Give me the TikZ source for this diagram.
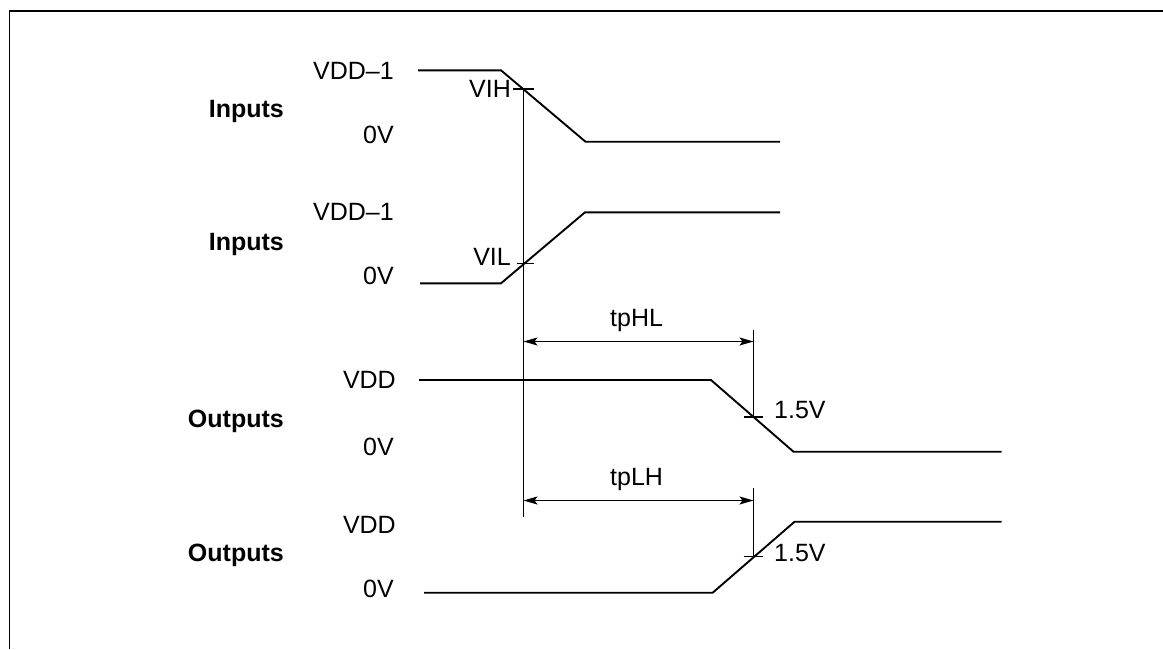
\documentclass[tikz,border=0pt]{standalone}
\usepackage{fontspec}
\setmainfont{Liberation Sans}
\usetikzlibrary{arrows.meta}
\begin{document}
\begin{tikzpicture}[x=1pt,y=-1pt,
  frame/.style={line width=1.3pt},
  wave/.style={line width=1.9pt, line join=miter},
  guide/.style={line width=1pt},
  tickmark/.style={line width=1.8pt},
  lbl/.style={inner sep=0pt, font=\fontsize{25}{29}\selectfont},
  blbl/.style={inner sep=0pt, font=\fontsize{25}{29}\selectfont\bfseries},
  dimline/.style={line width=1pt, {Stealth[length=14pt,width=8pt,inset=3pt]}-{Stealth[length=14pt,width=8pt,inset=3pt]}}]
\useasboundingbox (0,0) rectangle (1163,649);
% frame
\coordinate (ftl) at (9.6,11);
\coordinate (ftr) at (1163,11);
\coordinate (fbl) at (9.6,649);
\draw[frame] (ftr) -- (ftl) -- (fbl);
% waveform corners
\coordinate (a1) at (418,70.3);
\coordinate (a2) at (501,70.3);
\coordinate (a3) at (585.5,141.7);
\coordinate (a4) at (780,141.7);
\coordinate (b1) at (420,283.3);
\coordinate (b2) at (501,283.3);
\coordinate (b3) at (585,212.3);
\coordinate (b4) at (780,212.3);
\coordinate (c1) at (419,380);
\coordinate (c2) at (711,380);
\coordinate (c3) at (793.5,451.7);
\coordinate (c4) at (1001.5,451.7);
\coordinate (d1) at (424,592.7);
\coordinate (d2) at (712.7,592.7);
\coordinate (d3) at (794.6,521.7);
\coordinate (d4) at (1001.5,521.7);
\draw[wave] (a1) -- (a2) -- (a3) -- (a4);
\draw[wave] (b1) -- (b2) -- (b3) -- (b4);
\draw[wave] (c1) -- (c2) -- (c3) -- (c4);
\draw[wave] (d1) -- (d2) -- (d3) -- (d4);
% guide lines
\coordinate (v1t) at (523.5,89.3);
\coordinate (v1b) at (523.5,517);
\draw[guide] (v1t) -- (v1b);
\coordinate (v2t) at (753.5,330);
\coordinate (v2b) at (753.5,417);
\draw[guide] (v2t) -- (v2b);
\coordinate (v3t) at (753.5,488);
\coordinate (v3b) at (753.5,557);
\draw[guide] (v3t) -- (v3b);
% ticks
\coordinate (t1l) at (513,89.3);   \coordinate (t1r) at (534,89.3);
\coordinate (t2l) at (516.6,263.5); \coordinate (t2r) at (534,263.5);
\coordinate (t3l) at (743.5,417);  \coordinate (t3r) at (763,417);
\coordinate (t4l) at (743.5,556.5); \coordinate (t4r) at (763,556.5);
\draw[tickmark] (t1l) -- (t1r);
\draw[tickmark] (t2l) -- (t2r);
\draw[tickmark] (t3l) -- (t3r);
\draw[tickmark] (t4l) -- (t4r);
% dimension arrows
\coordinate (hl1) at (523.5,341.5); \coordinate (hl2) at (753.5,341.5);
\coordinate (lh1) at (523.5,500.5); \coordinate (lh2) at (753.5,500.5);
\draw[dimline] (hl1) -- (hl2);
\draw[dimline] (lh1) -- (lh2);
% labels
\node[lbl, anchor=base east] (l1) at (394,79.6) {VDD--1};
\node[blbl, anchor=base east] (n1) at (284,117) {Inputs};
\node[lbl, anchor=base east] (z1) at (394,143.6) {0V};
\node[lbl, anchor=base east] (vih) at (511,97.6) {VIH};
\node[lbl, anchor=base east] (l2) at (394,220.6) {VDD--1};
\node[blbl, anchor=base east] (n2) at (284,250) {Inputs};
\node[lbl, anchor=base east] (vil) at (511,265.6) {VIL};
\node[lbl, anchor=base east] (z2) at (394,284.6) {0V};
\node[lbl, anchor=base west] (tphl) at (610,326) {tpHL};
\node[lbl, anchor=base east] (h3) at (396,388.6) {VDD};
\node[blbl, anchor=base east] (n3) at (284,427) {Outputs};
\node[lbl, anchor=base east] (z3) at (394,455.6) {0V};
\node[lbl, anchor=base west] (v15a) at (774,418.6) {1.5V};
\node[lbl, anchor=base west] (tplh) at (610,485) {tpLH};
\node[lbl, anchor=base east] (h4) at (396,533.6) {VDD};
\node[blbl, anchor=base east] (n4) at (284,561) {Outputs};
\node[lbl, anchor=base east] (z4) at (394,597.6) {0V};
\node[lbl, anchor=base west] (v15b) at (774,561.6) {1.5V};
\end{tikzpicture}
\end{document}
